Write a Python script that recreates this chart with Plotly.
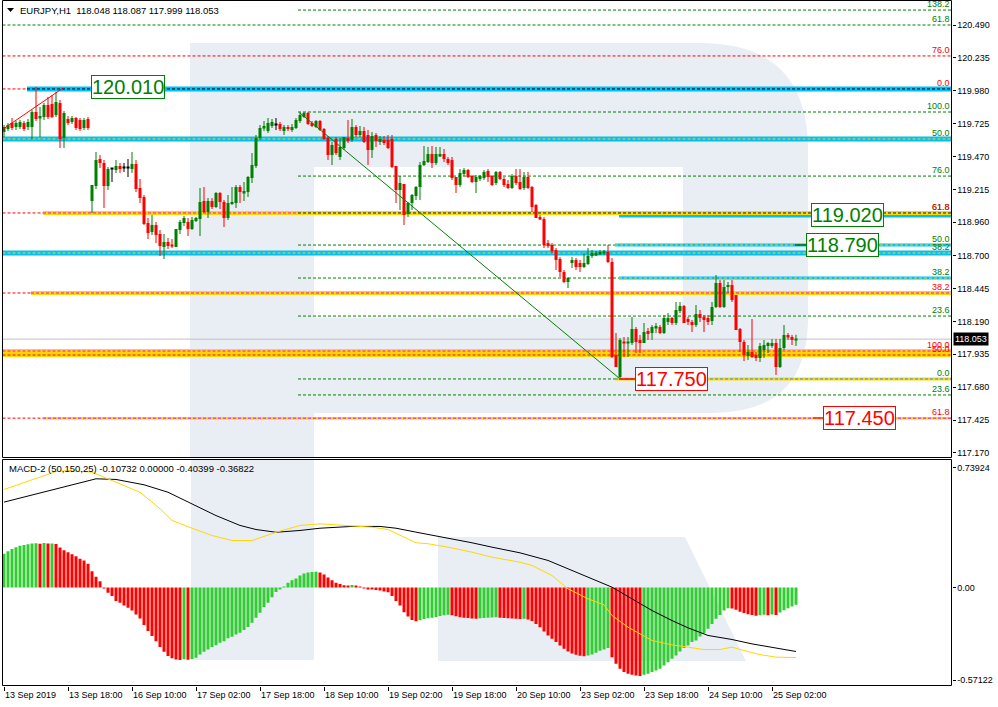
import plotly.graph_objects as go

W, H = 998, 707

# ---------------- data ----------------
opens = [119.660,119.683,119.730,119.699,119.699,119.730,119.699,119.699,119.815,119.769,
119.776,119.869,119.877,119.792,119.885,119.613,119.761,119.737,119.769,119.753,
119.691,119.761,119.125,119.241,119.450,119.419,119.241,119.373,119.365,119.396,
119.381,119.381,119.373,119.412,119.226,119.156,118.954,118.884,118.938,118.869,
118.768,118.807,118.783,118.768,118.900,118.954,118.962,118.907,118.969,118.985,
119.125,119.039,119.125,119.078,119.187,119.117,118.993,119.101,119.109,119.233,
119.187,119.195,119.303,119.396,119.613,119.691,119.668,119.706,119.718,119.722,
119.668,119.699,119.675,119.691,119.745,119.776,119.807,119.730,119.699,119.745,
119.683,119.613,119.481,119.606,119.466,119.536,119.613,119.598,119.699,119.637,
119.668,119.637,119.520,119.637,119.582,119.598,119.598,119.606,119.396,119.210,
119.257,119.024,119.109,119.164,119.233,119.404,119.427,119.489,119.419,119.474,
119.489,119.450,119.443,119.311,119.249,119.334,119.365,119.319,119.272,119.295,
119.303,119.357,119.319,119.264,119.350,119.295,119.257,119.226,119.319,119.272,
119.226,119.311,119.233,119.094,119.000,118.985,118.799,118.783,118.745,118.675,
118.574,118.496,118.644,118.667,118.644,118.613,118.636,118.698,118.706,118.714,
118.721,118.729,118.651,117.930,117.760,118.031,118.023,118.023,118.132,118.046,
118.023,118.116,118.101,118.140,118.147,118.101,118.186,118.217,118.178,118.271,
118.310,118.209,118.186,118.163,118.248,118.225,118.217,118.194,118.302,118.488,
118.302,118.457,118.473,118.395,118.132,118.031,117.922,117.953,117.930,117.907,
117.969,118.000,118.000,118.023,117.837,117.984,118.085,118.070,118.048]
highs = [119.714,119.730,119.769,119.745,119.753,119.745,119.761,119.831,120.009,119.854,
119.885,119.931,119.947,119.970,119.908,119.823,119.784,119.784,119.776,119.769,
119.769,119.776,119.249,119.505,119.481,119.443,119.388,119.380,119.443,119.419,
119.419,119.450,119.505,119.443,119.295,119.171,118.993,119.016,118.962,118.900,
118.869,118.838,118.830,118.907,118.977,119.008,118.993,119.000,119.000,119.226,
119.233,119.148,119.148,119.195,119.195,119.132,119.171,119.233,119.249,119.249,
119.272,119.319,119.497,119.637,119.714,119.745,119.769,119.761,119.769,119.737,
119.714,119.714,119.722,119.769,119.815,119.815,119.815,119.745,119.753,119.753,
119.691,119.629,119.582,119.621,119.613,119.621,119.753,119.761,119.714,119.706,
119.699,119.675,119.660,119.652,119.629,119.629,119.637,119.637,119.396,119.319,
119.257,119.117,119.179,119.241,119.427,119.551,119.544,119.551,119.544,119.544,
119.528,119.466,119.466,119.311,119.373,119.381,119.373,119.326,119.326,119.326,
119.365,119.373,119.326,119.357,119.357,119.311,119.288,119.334,119.373,119.373,
119.350,119.350,119.241,119.101,119.016,119.000,118.822,118.799,118.760,118.690,
118.589,118.535,118.690,118.683,118.667,118.721,118.760,118.745,118.737,118.745,
118.745,118.783,118.683,118.101,118.062,118.070,118.070,118.225,118.147,118.085,
118.178,118.140,118.163,118.178,118.163,118.240,118.256,118.225,118.341,118.341,
118.318,118.225,118.202,118.318,118.279,118.240,118.240,118.341,118.551,118.512,
118.512,118.496,118.512,118.395,118.140,118.046,118.007,118.209,117.953,118.023,
118.046,118.031,118.054,118.054,118.054,118.163,118.101,118.085,118.087]
lows = [119.621,119.668,119.675,119.675,119.683,119.668,119.675,119.606,119.745,119.621,
119.753,119.761,119.769,119.776,119.536,119.536,119.714,119.722,119.675,119.668,
119.675,119.675,119.032,119.218,119.381,119.070,119.210,119.272,119.342,119.342,
119.350,119.311,119.342,119.195,119.109,118.938,118.830,118.861,118.799,118.698,
118.675,118.752,118.760,118.768,118.869,118.931,118.853,118.900,118.962,118.853,
119.032,118.993,119.063,119.070,119.063,118.923,118.977,119.094,119.070,119.109,
119.125,119.156,119.264,119.381,119.598,119.668,119.652,119.691,119.675,119.668,
119.637,119.668,119.660,119.683,119.730,119.769,119.714,119.699,119.691,119.668,
119.598,119.443,119.404,119.481,119.443,119.520,119.575,119.582,119.621,119.621,
119.575,119.404,119.458,119.544,119.559,119.559,119.528,119.381,119.109,119.055,
118.938,119.000,119.055,119.132,119.132,119.396,119.419,119.381,119.404,119.466,
119.427,119.404,119.288,119.187,119.233,119.319,119.303,119.264,119.187,119.280,
119.288,119.272,119.241,119.249,119.288,119.233,119.218,119.218,119.249,119.210,
119.210,119.218,119.039,118.993,118.977,118.760,118.760,118.721,118.589,118.535,
118.488,118.450,118.605,118.589,118.574,118.605,118.628,118.683,118.698,118.706,
118.706,118.644,117.907,117.837,117.750,117.914,117.914,118.007,117.945,117.945,
118.023,118.046,118.046,118.101,118.093,118.093,118.163,118.163,118.163,118.256,
118.178,118.163,118.108,118.147,118.186,118.108,118.163,118.163,118.295,118.295,
118.295,118.411,118.341,118.124,117.953,117.883,117.891,117.907,117.883,117.876,
117.907,117.945,117.984,117.775,117.829,117.969,118.046,118.007,117.999]
closes = [119.699,119.714,119.691,119.730,119.737,119.683,119.737,119.815,119.761,119.784,
119.869,119.776,119.776,119.893,119.606,119.807,119.730,119.769,119.691,119.683,
119.753,119.691,119.249,119.443,119.419,119.241,119.373,119.373,119.396,119.373,
119.381,119.381,119.412,119.218,119.148,118.946,118.876,118.938,118.861,118.776,
118.807,118.776,118.776,118.907,118.962,118.993,118.907,118.977,118.993,119.117,
119.039,119.125,119.078,119.187,119.117,118.993,119.109,119.117,119.233,119.195,
119.202,119.311,119.404,119.613,119.691,119.706,119.730,119.737,119.718,119.683,
119.699,119.683,119.699,119.753,119.792,119.807,119.722,119.706,119.745,119.675,
119.606,119.481,119.559,119.497,119.544,119.621,119.590,119.699,119.637,119.668,
119.582,119.520,119.629,119.590,119.606,119.575,119.536,119.388,119.210,119.264,
119.016,119.109,119.171,119.233,119.404,119.435,119.489,119.419,119.489,119.489,
119.450,119.419,119.303,119.249,119.342,119.365,119.311,119.272,119.311,119.319,
119.350,119.311,119.249,119.350,119.295,119.249,119.226,119.319,119.264,119.218,
119.311,119.226,119.078,118.993,118.985,118.783,118.776,118.737,118.667,118.574,
118.496,118.527,118.667,118.613,118.613,118.644,118.698,118.721,118.721,118.729,
118.729,118.651,117.914,117.837,118.046,118.023,118.031,118.132,118.031,118.023,
118.108,118.093,118.147,118.155,118.101,118.217,118.217,118.178,118.279,118.310,
118.178,118.186,118.163,118.248,118.217,118.202,118.186,118.302,118.488,118.302,
118.457,118.473,118.357,118.124,118.031,117.930,117.953,117.914,117.907,118.000,
118.007,118.023,118.023,117.837,117.984,118.085,118.070,118.046,118.053]

hist = [0.209,0.224,0.238,0.248,0.257,0.263,0.267,0.271,0.273,0.270,
0.274,0.271,0.272,0.268,0.247,0.230,0.218,0.205,0.193,0.178,
0.166,0.146,0.100,0.066,0.039,-0.006,-0.033,-0.053,-0.084,-0.094,
-0.111,-0.125,-0.142,-0.166,-0.191,-0.232,-0.269,-0.300,-0.331,-0.368,
-0.396,-0.423,-0.437,-0.444,-0.448,-0.443,-0.446,-0.442,-0.433,-0.413,
-0.396,-0.382,-0.368,-0.356,-0.341,-0.331,-0.314,-0.304,-0.290,-0.279,
-0.263,-0.244,-0.218,-0.187,-0.156,-0.121,-0.094,-0.060,-0.027,-0.011,
0.004,0.029,0.045,0.055,0.074,0.086,0.092,0.096,0.098,0.092,
0.080,0.062,0.045,0.030,0.021,0.014,0.009,0.016,0.011,0.006,
-0.003,-0.008,-0.011,-0.015,-0.019,-0.024,-0.030,-0.053,-0.084,-0.111,
-0.152,-0.179,-0.200,-0.208,-0.202,-0.195,-0.190,-0.186,-0.182,-0.176,
-0.171,-0.168,-0.172,-0.178,-0.183,-0.186,-0.189,-0.191,-0.193,-0.190,
-0.188,-0.186,-0.185,-0.184,-0.186,-0.188,-0.190,-0.191,-0.193,-0.195,
-0.193,-0.197,-0.206,-0.225,-0.245,-0.272,-0.296,-0.317,-0.337,-0.358,
-0.378,-0.395,-0.407,-0.415,-0.421,-0.424,-0.420,-0.414,-0.403,-0.391,
-0.382,-0.373,-0.430,-0.471,-0.502,-0.522,-0.533,-0.539,-0.543,-0.547,
-0.539,-0.533,-0.522,-0.512,-0.502,-0.481,-0.461,-0.440,-0.420,-0.395,
-0.374,-0.358,-0.337,-0.327,-0.302,-0.282,-0.255,-0.225,-0.193,-0.169,
-0.142,-0.128,-0.130,-0.138,-0.150,-0.158,-0.165,-0.169,-0.175,-0.172,
-0.168,-0.171,-0.166,-0.169,-0.155,-0.140,-0.128,-0.118,-0.107]

macd_x = [0,8,16,23,28,35,41,47,53,59,63,68,74,79,87,94,98,104,110,117,122,129,136,142,148,152,157,162,167,171,176,182,187,192,198]
macd_vals = [0.527,0.578,0.630,0.671,0.667,0.634,0.588,0.517,0.444,0.383,0.358,0.341,0.352,0.366,0.377,0.377,0.366,0.337,0.311,0.276,0.249,0.214,0.167,0.105,0.043,0.002,-0.070,-0.142,-0.204,-0.249,-0.296,-0.321,-0.348,-0.368,-0.395]
signal_x = [0,8,13,16,22,27,34,39,42,47,52,57,62,68,74,79,84,89,92,96,100,103,106,111,117,122,129,132,137,141,146,150,152,156,159,162,167,171,175,179,182,185,189,193,198]
signal_vals = [0.605,0.671,0.716,0.722,0.712,0.660,0.588,0.486,0.414,0.366,0.321,0.290,0.290,0.341,0.383,0.393,0.383,0.377,0.372,0.358,0.311,0.276,0.270,0.249,0.218,0.187,0.156,0.136,0.074,-0.008,-0.070,-0.107,-0.173,-0.245,-0.286,-0.327,-0.354,-0.368,-0.383,-0.383,-0.368,-0.389,-0.414,-0.430,-0.432]

price_ticks = [120.490,120.235,119.980,119.725,119.470,119.215,118.960,118.700,118.445,118.190,117.935,117.680,117.425,117.170]
macd_ticks = [0.73924, 0.0, -0.57122]
macd_tick_text = ["0.73924", "0.00", "-0.57122"]
time_bars = [0,16,32,48,64,80,96,112,128,144,160,176,192]
time_labels = ["13 Sep 2019","13 Sep 18:00","16 Sep 10:00","17 Sep 02:00","17 Sep 18:00","18 Sep 10:00",
               "19 Sep 02:00","19 Sep 18:00","20 Sep 10:00","23 Sep 02:00","23 Sep 18:00","24 Sep 10:00","25 Sep 02:00"]

# Fibonacci / level values
fib_green_levels = [120.606,119.815,119.318,119.032,118.783,118.527,118.232,117.744,117.620]
fib_green_texts = ["138.2","100.0","76.0","61.8","50.0","38.2","23.6","0.0","23.6"]
green_top_level = 120.490
red_top_level = 120.250
blue_levels = [119.994,119.606,118.721]
blue_right_levels = [119.008,118.783,118.527]
yellow_levels = [119.032,118.411,117.961,117.930,117.440]
yellow_right_level = 117.744
red_labels = [("76.0",120.250),("0.0",119.994),("61.8",119.032),("38.2",118.411),("100.0",117.961),("50.0",117.930),("61.8",117.440)]
green_labels_extra = [("61.8",120.490),("50.0",119.606),("38.2",118.721)]

box_texts = ["120.010","119.020","118.790","117.750","117.450"]
box_bars = [30.9,210.75,209.6,166.75,213.75]
box_prices = [120.009,119.016,118.783,117.740,117.441]
box_colors = ["#008000","#008000","#008000","#FF0000","#FF0000"]

red_trend_x = [-0.2, 14.75]
red_trend_y = [119.683, 120.001]
green_trend_x = [74, 153.8]
green_trend_y = [119.807, 117.750]

header = "EURJPY,H1  118.048 118.087 117.999 118.053"
macd_header = "MACD-2 (50,150,25) -0.10732 0.00000 -0.40399 -0.36822"

# ---------------- layout geometry ----------------
XL, XR = -0.375, 236.875
MAIN_RANGE = [117.1347, 120.6801]
MACD_RANGE = [-0.6049, 0.7901]
FONT = "Liberation Sans, Arial, sans-serif"
BOXFONT = "Liberation Sans, Arial, sans-serif"

def px(x):
    return x / W
def py(y):
    return 1 - y / H

n = len(opens)
idx = list(range(n))
ccol = []
for o, c in zip(opens, closes):
    ccol.append("#008000" if c > o else ("#FF0000" if c < o else "#000000"))

fig = go.Figure()

# wicks
fig.add_trace(go.Bar(x=idx, y=[h - l for h, l in zip(highs, lows)], base=lows, width=0.25,
                     marker=dict(color=ccol, line=dict(width=0)), xaxis="x", yaxis="y",
                     hoverinfo="skip", showlegend=False))
# bodies
fig.add_trace(go.Bar(x=idx, y=[max(abs(c - o), 0.008) for o, c in zip(opens, closes)],
                     base=[min(o, c) if abs(c - o) >= 0.008 else (o + c) / 2 - 0.004 for o, c in zip(opens, closes)],
                     width=0.75, marker=dict(color=ccol, line=dict(width=0)), xaxis="x", yaxis="y",
                     hoverinfo="skip", showlegend=False))

# trend lines
fig.add_trace(go.Scatter(x=red_trend_x, y=red_trend_y, mode="lines", line=dict(color="#FF0000", width=1),
                         xaxis="x", yaxis="y", hoverinfo="skip", showlegend=False))
fig.add_trace(go.Scatter(x=green_trend_x, y=green_trend_y, mode="lines", line=dict(color="#008000", width=1),
                         xaxis="x", yaxis="y", hoverinfo="skip", showlegend=False))

# MACD histogram
hcol = ["#32CD32" if i == 0 or hist[i] > hist[i - 1] else "#FF0000" for i in range(len(hist))]
fig.add_trace(go.Bar(x=idx, y=hist, width=0.75, marker=dict(color=hcol, line=dict(width=0)),
                     xaxis="x2", yaxis="y2", hoverinfo="skip", showlegend=False))
fig.add_trace(go.Scatter(x=macd_x, y=macd_vals, mode="lines", line=dict(color="#000000", width=1),
                         xaxis="x2", yaxis="y2", hoverinfo="skip", showlegend=False))
fig.add_trace(go.Scatter(x=signal_x, y=signal_vals, mode="lines", line=dict(color="#FFD700", width=1),
                         xaxis="x2", yaxis="y2", hoverinfo="skip", showlegend=False))

shapes = []

# ---- watermark (paper coords) ----
WM = "#E9EDF4"
def ppath(cmds):
    out = []
    for c in cmds:
        if isinstance(c, str):
            out.append(c)
        else:
            out.append("%.5f,%.5f" % (px(c[0]), py(c[1])))
    return " ".join(out)

outer = ppath(["M", (190, 43), "L", (700, 43), "Q", (808, 43), (808, 150), "L", (808, 318),
               "Q", (808, 413), (712, 413), "L", (314, 413), "L", (314, 457.5), "L", (190, 457.5), "Z"])
hole = ppath(["M", (314, 167), "L", (683, 167), "L", (683, 296), "Q", (683, 318), (660, 318),
              "L", (314, 318), "Z"])
stem2 = ppath(["M", (191, 459.5), "L", (314, 459.5), "L", (314, 660), "L", (191, 660), "Z"])
leg = ppath(["M", (438, 537), "L", (685, 537), "L", (746, 661), "L", (438, 661), "Z"])
for pth, col in [(outer, WM), (hole, "#FFFFFF"), (stem2, WM), (leg, WM)]:
    shapes.append(dict(type="path", path=pth, xref="paper", yref="paper", fillcolor=col,
                       line=dict(width=0), layer="below"))

def hline(y, x0, x1, color, width, dash="solid"):
    shapes.append(dict(type="line", xref="x", yref="y", x0=x0, x1=x1, y0=y, y1=y,
                       line=dict(color=color, width=width, dash=dash), layer="below"))

DASH = "3px,2px"
BLUE, YEL, MAG = "#00BFFF", "#FFD700", "#FF00FF"
FIB0 = 73.5
hline(green_top_level, XL, XR, "#008000", 1, DASH)
hline(red_top_level, XL, XR, "#FF0000", 1, DASH)
for lv in fib_green_levels:
    hline(lv, FIB0, XR, "#008000", 1, DASH)
blue_starts = [5.75, XL, XL]
for lv, s in zip(blue_levels, blue_starts):
    if s > XL:
        hline(lv, XL, s, "#FF0000", 1, DASH)
    hline(lv, s, XR, BLUE, 5)
hline(blue_levels[0], blue_starts[0], XR, "#000000", 1, DASH)
hline(blue_levels[1], XL, XR, YEL, 1, DASH)
hline(blue_levels[2], XL, XR, YEL, 1, DASH)
blue_right_starts = [153.75, 152.75, 153.75]
for lv, s in zip(blue_right_levels, blue_right_starts):
    hline(lv, s, XR, BLUE, 3)
hline(blue_right_levels[1], blue_right_starts[1], XR, YEL, 1, DASH)
hline(blue_right_levels[2], blue_right_starts[2], XR, YEL, 1, DASH)
yellow_starts = [9.75, 6.75, XL, XL, 9.75]
yellow_widths = [4, 4, 4, 4, 2.5]
yellow_dash_cols = [MAG, MAG, MAG, "#FF0000", MAG]
for lv, s, w, dc in zip(yellow_levels, yellow_starts, yellow_widths, yellow_dash_cols):
    if s > XL:
        hline(lv, XL, s, "#FF0000", 1, DASH)
    hline(lv, s, XR, YEL, w)
    hline(lv, s, XR, dc, 1, DASH)
hline(fib_green_levels[3], FIB0, XR, "#008000", 1, DASH)
hline(yellow_right_level, 152.75, XR, YEL, 3)
hline(yellow_right_level, 152.75, XR, "#1E90FF", 1, DASH)
hline(closes[-1], XL, XR, "#C0C0C0", 1)
hline(box_prices[3] + 0.004, 153.75, 158, "#FF0000", 1.5)
hline(box_prices[4], 202.25, 205, "#FF3000", 1.5)
hline(box_prices[2], 197.75, 201, "#006400", 1.5)

def rect(x0, y0, x1, y1):
    shapes.append(dict(type="rect", xref="paper", yref="paper", x0=px(x0), x1=px(x1), y0=py(y0), y1=py(y1),
                       line=dict(color="#000000", width=1), fillcolor="rgba(0,0,0,0)", layer="above"))
rect(2.5, 0.5, 951.5, 457.5)
rect(2.5, 459.5, 951.5, 685.5)

tri = ppath(["M", (7, 8), "L", (14, 8), "L", (10.5, 12), "Z"])
shapes.append(dict(type="path", path=tri, xref="paper", yref="paper", fillcolor="#000000",
                   line=dict(width=0), layer="above"))

annotations = []
annotations.append(dict(text=header, x=px(18), y=py(10.5), xref="paper", yref="paper", xanchor="left",
                        yanchor="middle", showarrow=False, font=dict(family=FONT, size=9.5, color="#000000")))
annotations.append(dict(text=macd_header, x=px(7), y=py(468), xref="paper", yref="paper", xanchor="left",
                        yanchor="middle", showarrow=False, font=dict(family=FONT, size=9.5, color="#000000")))

for t, lv in zip(fib_green_texts, fib_green_levels):
    annotations.append(dict(text=t, x=px(950.5), y=lv, xref="paper", yref="y", xanchor="right", yanchor="bottom",
                            showarrow=False, borderpad=0, font=dict(family=FONT, size=9, color="#008000")))
for t, lv in green_labels_extra:
    annotations.append(dict(text=t, x=px(950.5), y=lv, xref="paper", yref="y", xanchor="right", yanchor="bottom",
                            showarrow=False, borderpad=0, font=dict(family=FONT, size=9, color="#008000")))
for t, lv in red_labels:
    annotations.append(dict(text=t, x=px(950.5), y=lv, xref="paper", yref="y", xanchor="right", yanchor="bottom",
                            showarrow=False, borderpad=0, font=dict(family=FONT, size=9, color="#FF0000")))

for t, bx, bp, col in zip(box_texts, box_bars, box_prices, box_colors):
    annotations.append(dict(text=t, x=bx, y=bp, xref="x", yref="y", xanchor="center", yanchor="middle",
                            showarrow=False, bgcolor="#FFFFFF", bordercolor=col, borderwidth=1, borderpad=0,
                            font=dict(family=BOXFONT, size=20, color=col)))

annotations.append(dict(text=f"{closes[-1]:.3f}", x=px(953), y=closes[-1], xref="paper", yref="y",
                        xanchor="left", yanchor="middle", showarrow=False, bgcolor="#000000", borderpad=1,
                        font=dict(family=FONT, size=9, color="#FFFFFF")))

for b, t in zip(time_bars, time_labels):
    annotations.append(dict(text=t, x=b, y=py(695), xref="x2", yref="paper", xanchor="left", yanchor="middle",
                            xshift=-1.5, showarrow=False, font=dict(family=FONT, size=9, color="#000000")))

fig.update_layout(
    width=W, height=H, margin=dict(l=0, r=0, t=0, b=0),
    paper_bgcolor="#FFFFFF", plot_bgcolor="rgba(0,0,0,0)",
    barmode="overlay", showlegend=False, hovermode=False,
    shapes=shapes, annotations=annotations,
    xaxis=dict(domain=[px(2.5), px(951.5)], range=[XL, XR], showgrid=False, zeroline=False,
               showticklabels=False, ticks="", anchor="y", fixedrange=True),
    yaxis=dict(domain=[py(457.5), py(0.5)], range=MAIN_RANGE, side="right", anchor="x",
               showgrid=False, zeroline=False, tickvals=price_ticks, ticktext=[f"{v:.3f}" for v in price_ticks],
               ticks="outside", ticklen=3, tickcolor="#000000", tickwidth=1,
               tickfont=dict(family=FONT, size=9, color="#000000"), automargin=False, fixedrange=True),
    xaxis2=dict(domain=[px(2.5), px(951.5)], range=[XL, XR], matches="x", showgrid=False, zeroline=False,
                showticklabels=False, tickvals=time_bars, ticks="outside", ticklen=4, tickcolor="#000000",
                anchor="y2", fixedrange=True),
    yaxis2=dict(domain=[py(685.5), py(459.5)], range=MACD_RANGE, side="right", anchor="x2",
                showgrid=False, zeroline=False, tickvals=macd_ticks, ticktext=macd_tick_text,
                ticks="outside", ticklen=3, tickcolor="#000000", tickwidth=1,
                tickfont=dict(family=FONT, size=9, color="#000000"), automargin=False, fixedrange=True),
)

fig.write_html("out.html", config={"displayModeBar": False})

# remove the browser's default page margin so the figure sits at the window's top-left corner
with open("out.html", "r", encoding="utf-8") as f:
    html = f.read()
html = html.replace("<head>", "<head><style>html,body{margin:0;padding:0;overflow:hidden;}</style>", 1)
with open("out.html", "w", encoding="utf-8") as f:
    f.write(html)
